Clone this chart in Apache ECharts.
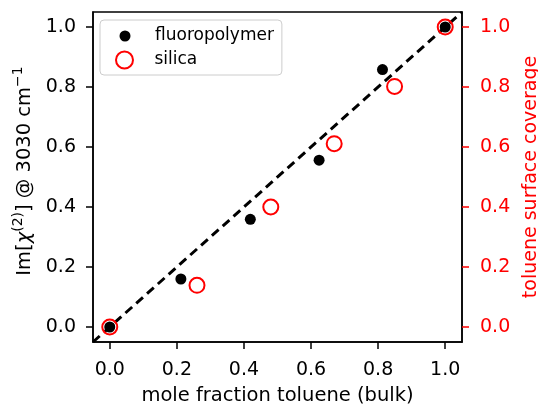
<!DOCTYPE html>
<html>
<head>
<meta charset="utf-8">
<script src="https://cdn.jsdelivr.net/npm/echarts@6/dist/echarts.min.js"></script>
<style>
  html, body { margin: 0; padding: 0; background: #fff; }
  #chart { width: 538px; height: 406px; }
</style>
</head>
<body>
<div id="chart"></div>
<script>
// data
var fluoroX = [0, 0.212, 0.419, 0.624, 0.813, 1.0];
var fluoroY = [0, 0.16, 0.359, 0.556, 0.858, 1.0];
var silicaX = [0, 0.26, 0.48, 0.669, 0.849, 1.0];
var silicaY = [0, 0.139, 0.40, 0.611, 0.802, 1.0];
var fitX = [-0.05, 1.05];
var fitY = [-0.05, 1.05];
var tickValues = [0, 0.2, 0.4, 0.6, 0.8, 1.0];

var FONT = 'DejaVu Sans';

function pairs (xs, ys) {
  return xs.map(function (x, i) { return [x, ys[i]]; });
}

function fmt (v) { return Number(v).toFixed(1); }

function valueAxis (color) {
  return {
    type: 'value',
    min: -0.05,
    max: 1.05,
    splitLine: { show: false },
    axisLine: { show: true, onZero: false, lineStyle: { color: '#000', width: 1.5 } },
    axisTick: { show: true, length: 7, customValues: tickValues, lineStyle: { color: color, width: 1.5 } },
    axisLabel: { customValues: tickValues, formatter: fmt, color: color, fontFamily: FONT, fontSize: 19 }
  };
}

var xAxis = valueAxis('#000');
xAxis.axisLabel.margin = 19;
xAxis.name = 'mole fraction toluene (bulk)';
xAxis.nameLocation = 'middle';
xAxis.nameGap = 44;
xAxis.nameTextStyle = { color: '#000', fontFamily: FONT, fontSize: 19.5 };

var yLeft = valueAxis('#000');
yLeft.position = 'left';
yLeft.axisLabel.margin = 17;
yLeft.name = '{a|Im[}{b|χ}{s|(2)}{a|] @ 3030 cm}{s|−1}';
yLeft.nameLocation = 'middle';
yLeft.nameRotate = 90;
yLeft.nameGap = 53;
yLeft.nameTextStyle = {
  padding: [0, 0, 0, 12],
  rich: {
    a: { color: '#000', fontFamily: FONT, fontSize: 19.5, lineHeight: 28 },
    b: { color: '#000', fontFamily: FONT, fontSize: 19.5, lineHeight: 28, fontStyle: 'italic' },
    s: { color: '#000', fontFamily: FONT, fontSize: 14, lineHeight: 14, verticalAlign: 'top' }
  }
};

var yRight = valueAxis('#ff0000');
yRight.position = 'right';
yRight.axisLabel.margin = 18;
yRight.name = 'toluene surface coverage';
yRight.nameLocation = 'middle';
yRight.nameRotate = 90;
yRight.nameGap = 57;
yRight.nameTextStyle = { color: '#ff0000', fontFamily: FONT, fontSize: 19 };

var option = {
  animation: false,
  textStyle: { fontFamily: FONT },
  grid: {
    left: 93, top: 12, right: 76, bottom: 64,
    outerBoundsMode: 'none',
    show: true, borderColor: '#000', borderWidth: 1.5, backgroundColor: 'transparent'
  },
  legend: [
    {
      data: ['fluoropolymer'],
      left: 100, top: 20,
      orient: 'vertical',
      itemWidth: 50, itemHeight: 11,
      padding: [7.5, 8, 30.5, 19.5],
      borderColor: '#cccccc', borderWidth: 1, borderRadius: 4,
      backgroundColor: 'rgba(255,255,255,0.8)',
      textStyle: { color: '#000', fontFamily: FONT, fontSize: 17 }
    },
    {
      data: ['silica'],
      left: 115, top: 50.5,
      orient: 'vertical',
      itemWidth: 50, itemHeight: 17,
      padding: 0,
      textStyle: { color: '#000', fontFamily: FONT, fontSize: 17 }
    }
  ],
  xAxis: xAxis,
  yAxis: [yLeft, yRight],
  series: [
    {
      name: 'fit',
      type: 'line',
      data: pairs(fitX, fitY),
      showSymbol: false,
      symbol: 'none',
      lineStyle: { color: '#000', width: 3, type: [9, 5.5] },
      silent: true,
      z: 1
    },
    {
      name: 'fluoropolymer',
      type: 'scatter',
      data: pairs(fluoroX, fluoroY),
      symbol: 'circle',
      symbolSize: 11,
      itemStyle: { color: '#000', opacity: 1 },
      z: 3
    },
    {
      name: 'silica',
      type: 'scatter',
      yAxisIndex: 1,
      data: pairs(silicaX, silicaY),
      symbol: 'circle',
      symbolSize: 15,
      itemStyle: { color: 'rgba(0,0,0,0)', borderColor: '#ff0000', borderWidth: 2, opacity: 1 },
      z: 2
    }
  ]
};

var myChart = echarts.init(document.getElementById('chart'));
myChart.setOption(option);
</script>
</body>
</html>
